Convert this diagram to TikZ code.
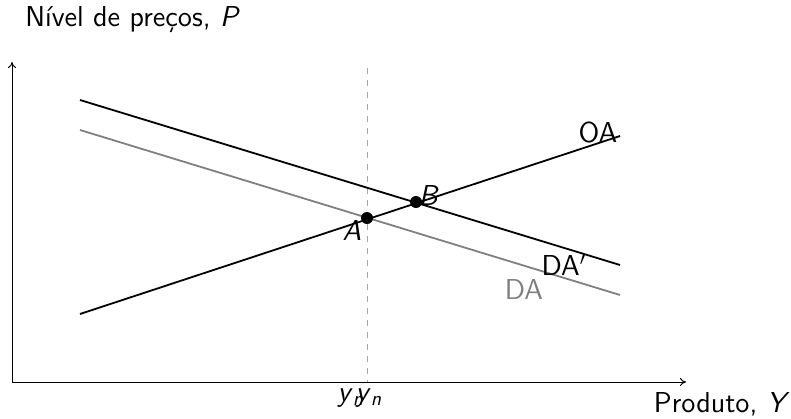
\documentclass[tikz,border=0pt]{standalone}
\usetikzlibrary{arrows.meta}
\newcommand{\svar}[1]{\textsf{\textit{#1}}}
\begin{document}
\begin{tikzpicture}[x=0.5pt,y=-0.5pt,
  lbl/.style={font=\sffamily\fontsize{14.4}{17}\selectfont, inner sep=0pt},
  curve/.style={line width=0.9pt},
  axis/.style={line width=0.5pt,-{To[length=3pt,width=4pt]}},
  dot/.style={circle,fill=black,inner sep=0pt,minimum size=6pt}]
\useasboundingbox (0,0) rectangle (791,418);
% axes
\coordinate (O) at (12,382);
\coordinate (Ytop) at (12,62);
\coordinate (Xend) at (686,382);
\draw[axis] (O) -- (Ytop);
\draw[axis] (O) -- (Xend);
% dashed vertical
\coordinate (Vt) at (367,68);
\coordinate (Vb) at (367,382);
\draw[gray!70,dashed,line width=0.5pt] (Vt) -- (Vb);
% curves
\coordinate (DApS) at (80,100); \coordinate (DApE) at (620,265);
\coordinate (DAS) at (80,130); \coordinate (DAE) at (620,295);
\coordinate (OAS) at (80,314); \coordinate (OAE) at (620,136);
\draw[curve,gray] (DAS) -- (DAE);
\draw[curve] (DApS) -- (DApE);
\draw[curve] (OAS) -- (OAE);
% points
\node[dot] (A) at (367,218) {};
\node[dot] (B) at (416,202) {};
% labels
\node[lbl] (lA) at (352,231) {\svar{A}};
\node[lbl] (lB) at (429,196) {\svar{B}};
\node[lbl] (lOA) at (598,133) {OA};
\node[lbl] (lDAp) at (564,265) {DA$'$};
\node[lbl,text=gray] (lDA) at (524,289) {DA};
\node[lbl] (yn1) at (351,398) {\svar{y}\textsubscript{\svar{n}}};
\node[lbl] (yn2) at (369,398) {\svar{y}\textsubscript{\svar{n}}};
\node[lbl,anchor=west] (ylab) at (25,20) {Nível de preços, \svar{P}};
\node[lbl,anchor=east] (xlab) at (790,404) {Produto, \svar{Y}};
\end{tikzpicture}
\end{document}
